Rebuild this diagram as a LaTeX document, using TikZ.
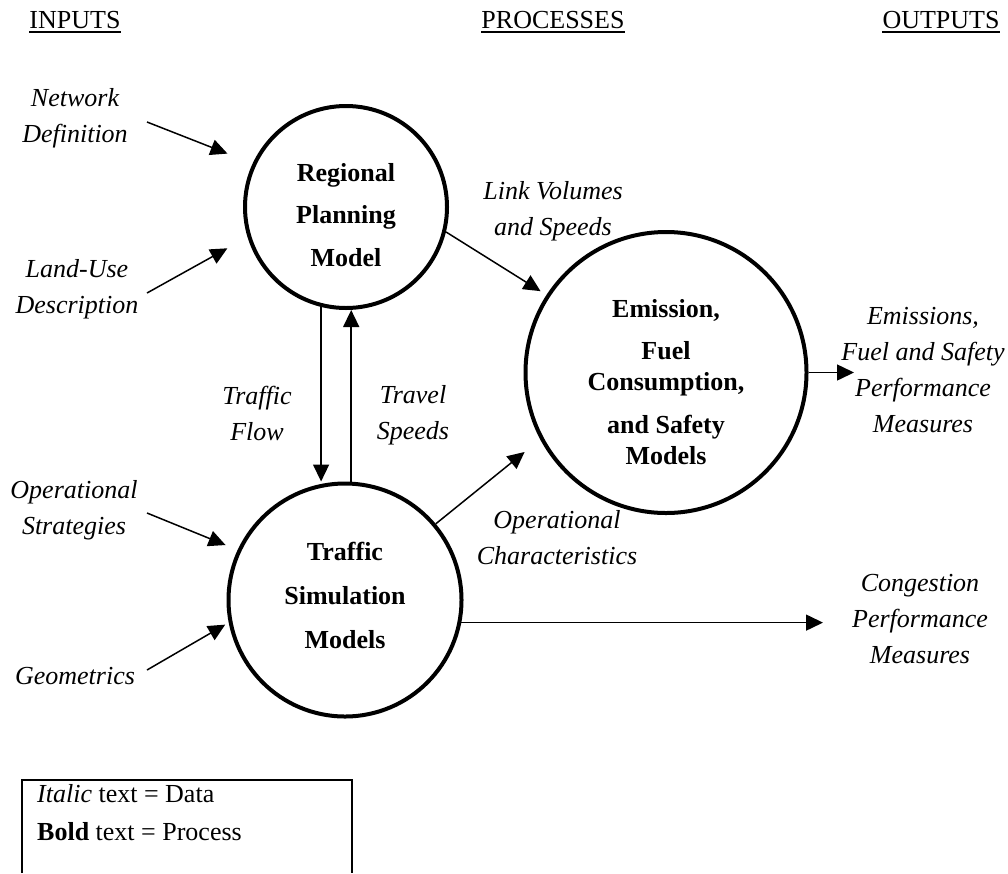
\documentclass[tikz,border=0pt]{standalone}
\usepackage{fontspec}
\setmainfont{Liberation Serif}
\usetikzlibrary{arrows.meta}

\tikzset{
  hdr/.style={inner sep=0pt, anchor=base},
  data/.style={font=\itshape, align=center, inner sep=0pt, anchor=north},
  proc/.style={circle, draw, line width=4pt, inner sep=0pt},
  ptext/.style={align=center, inner sep=0pt, anchor=north,
                font=\bfseries\fontsize{26}{31}\selectfont},
  flow/.style={-{Triangle[length=17pt,width=16pt]}, line width=1.5pt},
}

\begin{document}
\fontsize{26}{36}\selectfont
\begin{tikzpicture}[x=1pt,y=-1pt]
  \useasboundingbox (0,0) rectangle (1008,873);

  % column headers
  \foreach \name/\x/\txt in {inputs/75/INPUTS, procs/553/PROCESSES, outputs/941/OUTPUTS} {
    \node[hdr] (\name) at (\x,28) {\txt};
    \draw[line width=2pt] ([yshift=-4pt]\name.south west) -- ([yshift=-4pt]\name.south east);
  }

  % processes
  \node[proc, minimum size=202pt] (rpm) at (346,207) {};
  \node[proc, minimum size=281pt] (efs) at (666,372.5) {};
  \node[proc, minimum size=233pt] (tsm) at (345,600) {};
  \node[ptext] (rpmtxt) at (346,163) {Regional\\[11pt]Planning\\[12pt]Model};
  \node[ptext] (efstxt) at (666,299) {Emission,\\[11pt]Fuel\\Consumption,\\[12pt]and Safety\\Models};
  \node[ptext] (tsmtxt) at (345,542) {Traffic\\[13pt]Simulation\\[13pt]Models};

  % inputs
  \node[data] (netdef)  at (75,88)  {Network\\Definition};
  \node[data] (landuse) at (77,259) {Land-Use\\Description};
  \node[data] (opstrat) at (74,480) {Operational\\Strategies};
  \node[data] (geom)    at (75,667) {Geometrics};
  \coordinate (netdefa)  at (147,122);
  \coordinate (landusea) at (147,293);
  \coordinate (opstrata) at (147,513);
  \coordinate (geoma)    at (147,670);
  \draw[flow, shorten >=27pt] (netdefa) -- (rpm.155);
  \draw[flow, shorten >=23pt] (landusea) -- (rpm.197);
  \draw[flow, shorten >=13pt] (opstrata) -- (tsm.155);
  \draw[flow, shorten >=4pt] (geoma) -- (tsm.191);

  % data passed between processes
  \node[data] (tflow)   at (257,386) {Traffic\\Flow};
  \node[data] (tspeed)  at (413,385) {Travel\\Speeds};
  \node[data] (linkvol) at (553,181) {Link Volumes\\and Speeds};
  \node[data] (opchar)  at (557,510) {Operational\\Characteristics};
  \draw[flow] (rpm.256) -- (rpm.256 |- tsm.north);
  \draw[flow] (tsm.87) -- (tsm.87 |- rpm.south);
  \draw[flow, shorten >=7pt] (rpm.346) -- (efs.147);
  \draw[flow, shorten >=20pt] (tsm.40) -- (efs.208);

  % outputs
  \node[data] (emout)   at (923,307) {Emissions,\\Fuel and Safety\\Performance\\Measures};
  \node[data] (congout) at (920,574) {Congestion\\Performance\\Measures};
  \coordinate (emtip)   at (854,372.5);
  \coordinate (congtip) at (823,623);
  \draw[flow] (efs.east) -- (emtip);
  \draw[flow] (tsm.349) -- (tsm.349 -| congtip);

  % legend
  \draw[line width=1.5pt] (22,873) -- (22,780) -- (352,780) -- (352,873);
  \node[hdr, anchor=base west] (legdata) at (37,802) {\textit{Italic} text = Data};
  \node[hdr, anchor=base west] (legproc) at (37,840) {\textbf{Bold} text = Process};
\end{tikzpicture}
\end{document}
